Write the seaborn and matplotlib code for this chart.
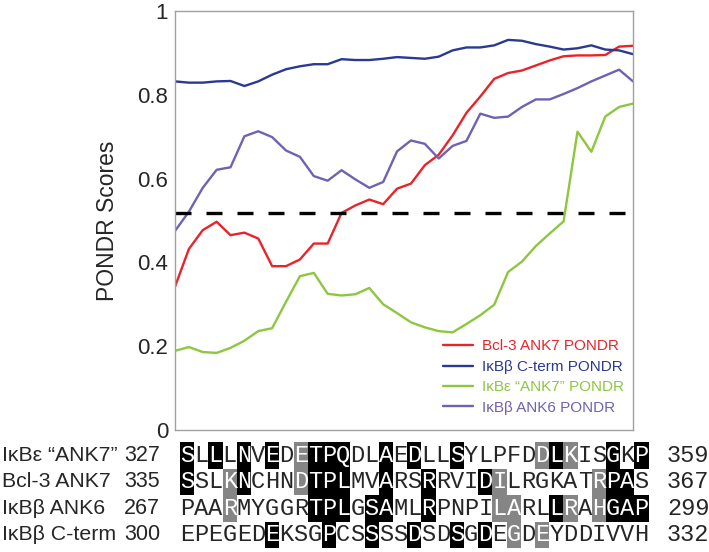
import numpy as np
import pandas as pd
import matplotlib
matplotlib.use('Agg')
import matplotlib.pyplot as plt
import matplotlib.transforms as mtransforms
from matplotlib.colors import ListedColormap
import seaborn as sns

# PONDR scores along the aligned window (34 points)
positions = list(range(34))
bcl3_ank7 = [0.342, 0.432, 0.477, 0.497, 0.465, 0.471, 0.457, 0.391, 0.391, 0.407,
             0.445, 0.445, 0.518, 0.536, 0.550, 0.539, 0.576, 0.588, 0.632, 0.657,
             0.703, 0.757, 0.796, 0.838, 0.852, 0.858, 0.870, 0.882, 0.892, 0.894,
             0.894, 0.895, 0.915, 0.917]
ikbb_cterm = [0.832, 0.829, 0.829, 0.832, 0.833, 0.821, 0.832, 0.848, 0.861, 0.868,
              0.873, 0.873, 0.885, 0.883, 0.883, 0.886, 0.890, 0.888, 0.886, 0.891,
              0.906, 0.913, 0.913, 0.918, 0.931, 0.929, 0.921, 0.915, 0.908, 0.911,
              0.918, 0.908, 0.906, 0.897]
ikbe_ank7 = [0.189, 0.198, 0.186, 0.184, 0.196, 0.213, 0.236, 0.243, 0.306, 0.367,
             0.375, 0.325, 0.321, 0.324, 0.339, 0.300, 0.279, 0.257, 0.245, 0.236,
             0.233, 0.253, 0.274, 0.299, 0.377, 0.402, 0.439, 0.469, 0.498, 0.712,
             0.664, 0.748, 0.771, 0.779]
ikbb_ank6 = [0.475, 0.521, 0.578, 0.621, 0.627, 0.701, 0.713, 0.699, 0.667, 0.652,
             0.606, 0.595, 0.620, 0.598, 0.578, 0.592, 0.665, 0.691, 0.683, 0.648,
             0.678, 0.690, 0.755, 0.745, 0.748, 0.771, 0.789, 0.789, 0.802, 0.816,
             0.832, 0.846, 0.860, 0.832]
threshold = 0.517

series_names = ['Bcl-3 ANK7 PONDR', 'IκBβ C-term PONDR',
                'IκBε “ANK7” PONDR', 'IκBβ ANK6 PONDR']
series_colors = ['#e8242a', '#2b3990', '#8dc63f', '#7161b0']

# sequence alignment under the plot
row_names = ['IκBε “ANK7”', 'Bcl-3 ANK7', 'IκBβ ANK6', 'IκBβ C-term']
row_starts = [327, 335, 267, 300]
row_ends = [359, 367, 299, 332]
sequences = ['SLLLNVEDETPQDLAEDLLSYLPFDDLKISGKP',
             'SSLKNCHNDTPLMVARSRRVIDILRGKATRPAS',
             'PAARMYGGRTPLGSAMLRPNPILARLLRAHGAP',
             'EPEGEDEKSGPCSSSSDSDSGDEGDEYDDIVVH']
# '.' = no shading, 'g' = grey, 'k' = black
shading = ['k.k.k.k.gkkk..k.k..k.....gkg..k.k',
           'k..gk...gkkk..k..k...kg......gkk.',
           '...g.....kkk.kk..k....gg..kg.gkkk',
           '......k...k..k..k..k.k.g.g.......']


def main():
    sns.set_style('white')
    plt.rcParams['font.family'] = ['Liberation Sans', 'DejaVu Sans']

    fig = plt.figure(figsize=(7.09, 5.52), dpi=100)
    ax = fig.add_axes([175 / 709, 1 - 430 / 552, 458 / 709, 419 / 552])

    df = pd.DataFrame({
        'position': positions * 4,
        'score': bcl3_ank7 + ikbb_cterm + ikbe_ank7 + ikbb_ank6,
        'series': np.repeat(series_names, len(positions)),
    })
    palette = dict(zip(series_names, series_colors))
    sns.lineplot(data=df, x='position', y='score', hue='series', hue_order=series_names,
                 palette=palette, estimator=None, linewidth=1.7, ax=ax)

    ax.axhline(threshold, color='black', linewidth=2.4, dashes=(4.8, 4.5))

    ax.set_xlim(0, 33)
    ax.set_ylim(0, 1)
    ax.set_yticks([0, 0.2, 0.4, 0.6, 0.8, 1])
    ax.set_yticklabels(['0', '0.2', '0.4', '0.6', '0.8', '1'])
    ax.set_xticks(range(3, 33, 3))
    ax.set_xticklabels([])
    ax.set_xlabel('')
    ax.set_ylabel('PONDR Scores', fontsize=16.5, labelpad=13)
    ax.tick_params(direction='in', length=5, color='#999999', width=1,
                   labelsize=16, pad=5)
    for s in ax.spines.values():
        s.set_color('#a0a0a0')
        s.set_linewidth(1)

    handles, labels = ax.get_legend_handles_labels()
    leg = ax.legend(handles, labels, loc='upper left', bbox_to_anchor=(0.585, 0.216),
                    frameon=False, fontsize=11, handlelength=2.0, handletextpad=0.55,
                    labelspacing=0.42, borderpad=0, borderaxespad=0)
    for txt, col in zip(leg.get_texts(), series_colors):
        txt.set_color(col)

    # alignment block as a heatmap of shading levels with residue letters
    level = {'.': 0, 'g': 1, 'k': 2}
    shade = np.array([[level[c] for c in row] for row in shading])
    letters = np.array([list(seq) for seq in sequences])
    ax2 = fig.add_axes([180 / 709, 4 / 552, 468.6 / 709, 106 / 552])
    sns.heatmap(shade, cmap=ListedColormap(['white', '#858585', 'black']), vmin=0, vmax=2,
                annot=letters, fmt='', cbar=False, xticklabels=False, yticklabels=False,
                annot_kws={'family': 'Liberation Mono', 'size': 17}, ax=ax2)
    for s in ax2.spines.values():
        s.set_visible(False)

    trans = mtransforms.blended_transform_factory(fig.transFigure, ax2.transData)
    for i, (name, start, end) in enumerate(zip(row_names, row_starts, row_ends)):
        ax2.text(2 / 709, i + 0.5, name, transform=trans, fontsize=15.3,
                 ha='left', va='center')
        ax2.text(124 / 709, i + 0.5, str(start), transform=trans, fontsize=15.5,
                 ha='left', va='center')
        ax2.text(667 / 709, i + 0.5, str(end), transform=trans, fontsize=17,
                 family='Liberation Mono', ha='left', va='center')

    fig.savefig('out.png', dpi=100)


if __name__ == "__main__": main()
